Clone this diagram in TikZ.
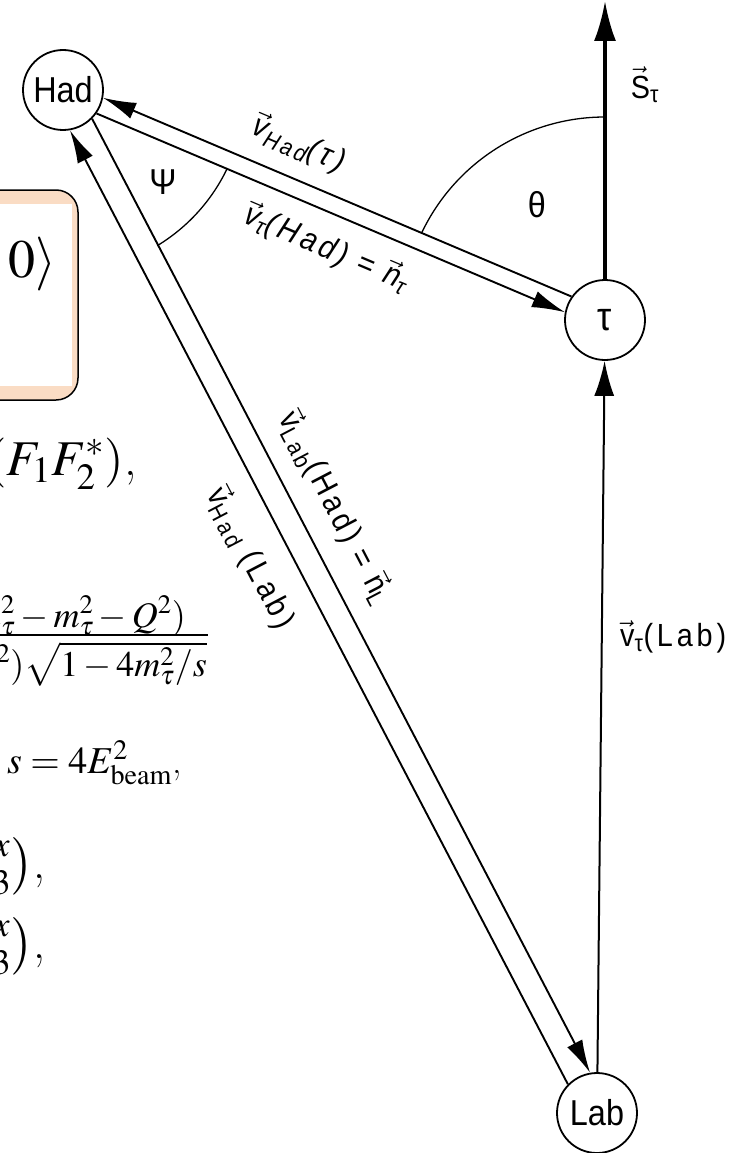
\documentclass[tikz,border=0pt]{standalone}
\usepackage{amsmath}
\usepackage{mathptmx}
\usepackage[no-math]{fontspec}
\newfontfamily\labfont{Liberation Sans}[FakeStretch=0.9, LetterSpace=12]
\newfontfamily\circfont{Liberation Sans}[FakeStretch=0.9]
\usetikzlibrary{arrows.meta,calc}
\definecolor{peach}{HTML}{FADCC4}
\newcommand\vlab[2]{$\vec{\text{#1}}_{\text{#2}}$}
\tikzset{
  circ/.style={circle,draw,line width=1.8pt,minimum size=80pt,inner sep=0pt,font=\circfont\fontsize{36}{38}\selectfont},
  vecline/.style={line width=1.9pt},
  arr/.style={-{Latex[length=33pt,width=17pt]}},
  lab/.style={font=\labfont\fontsize{32}{36}\selectfont, inner sep=2pt},
  itlab/.style={font=\labfont\itshape\fontsize{32}{36}\selectfont, inner sep=2pt},
  greek/.style={font=\circfont\fontsize{36}{38}\selectfont, inner sep=2pt},
  frag/.style={font=\fontsize{#1}{#1}\selectfont, inner sep=0pt, anchor=base west},
  ang/.style={line width=1.3pt},
}
\begin{document}
\begin{tikzpicture}[x=1pt,y=1pt]
\useasboundingbox (0,0) rectangle (731,-1153);
\clip (0,0) rectangle (731,-1153);
% equation fragments on the left
\draw[fill=peach, line width=1.5pt, rounded corners=22pt] (-40,-190) rectangle (78,-400);
\fill[white] (-40,-204) rectangle (72,-386);
\node[frag=54] (ket) at (8,-277) {$0\rangle$};
\node[frag=50] (f1) at (-13,-475) {$(F_1F_2^*)$,};
\node[frag=36] (num) at (-25,-627) {$m^2_\tau - m^2_\tau - Q^2)$};
\draw[line width=1.3pt] (-5,-635) -- (208,-635);
\node[frag=36, anchor=base east] (den) at (207,-676) {$Q^2)\sqrt{1-4m^2_\tau/s}$};
\node[frag=38] (sE) at (7,-773) {$s=4E^2_{\mathrm{beam}}$,};
\node[frag=48, anchor=base east] (b1) at (46,-878) {$\genfrac{}{}{0pt}{1}{x}{3}\bigr)$,};
\node[frag=48, anchor=base east] (b2) at (46,-958) {$\genfrac{}{}{0pt}{1}{x}{3}\bigr)$,};
% diagram nodes
\node[circ] (Had) at (63,-90) {Had};
\node[circ, font=\circfont\fontsize{40}{40}\selectfont] (tau) at (605,-320) {τ};
\node[circ] (Lab) at (597,-1113) {Lab};
\coordinate (Stop) at (605,-1);
% spin and lab vectors
\draw[line width=3.5pt, -{Latex[length=40pt,width=22pt]}] (tau) -- (Stop);
\draw[line width=2pt, -{Latex[length=35pt,width=20pt]}] (Lab) -- (tau);
% Had - tau double line
\draw[vecline, arr, shorten <=40pt, shorten >=40pt] ($(tau)!8.5pt!-90:(Had)$) -- ($(Had)!8.5pt!90:(tau)$);
\draw[vecline, arr, shorten <=40pt, shorten >=40pt] ($(Had)!8.5pt!-90:(tau)$) -- ($(tau)!8.5pt!90:(Had)$);
% Had - Lab double line
\draw[vecline, arr, shorten <=39pt, shorten >=39pt] ($(Had)!12.5pt!90:(Lab)$) -- ($(Lab)!12.5pt!-90:(Had)$);
\draw[vecline, arr, shorten <=39pt, shorten >=39pt] ($(Lab)!12.5pt!90:(Had)$) -- ($(Had)!12.5pt!-90:(Lab)$);
% labels along the lines
\path (Had) -- (tau) node[itlab, pos=0.39, sloped, above=24pt] (lHadtau) {\vlab{v}{Had}(τ)};
\path (Had) -- (tau) node[itlab, pos=0.52, sloped, below=24pt] (ltauHad) {\vlab{v}{τ}(Had) = \vlab{n}{τ}};
\path (Had) -- (Lab) node[lab, pos=0.425, sloped, above=30pt] (lLabHad) {\vlab{v}{Lab}(Had) = \vlab{n}{L}};
\path (Had) -- (Lab) node[lab, pos=0.43, sloped, below=32pt] (lHadLab) {\vlab{v}{Had} (Lab)};
\node[lab, anchor=west] (ltauLab) at (618,-637) {\vlab{v}{τ}(Lab)};
\node[lab] (lS) at (645,-85) {\vlab{S}{τ}};
% angles
\draw[ang] ([shift={(154.6:203)}]tau.center) arc[start angle=154.6, end angle=90, radius=203];
\draw[ang] ([shift={(-58.8:182)}]Had.center) arc[start angle=-58.8, end angle=-25.4, radius=182];
\node[greek] (theta) at (537,-205) {θ};
\node[greek] (psi) at (163,-182) {Ψ};
\end{tikzpicture}
\end{document}
